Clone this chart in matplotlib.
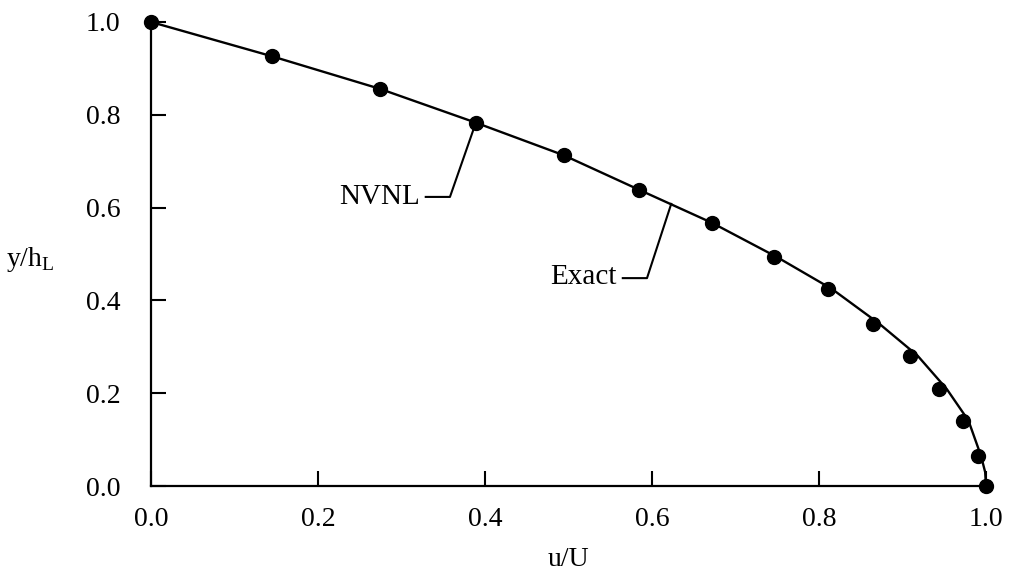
import matplotlib
matplotlib.use("Agg")
import matplotlib.pyplot as plt

# NVNL solution (dots)
u_nvnl = [0.0, 0.145, 0.274, 0.389, 0.494, 0.585, 0.672, 0.746, 0.811,
          0.865, 0.909, 0.944, 0.973, 0.991, 1.0]
y_nvnl = [1.0, 0.926, 0.856, 0.783, 0.713, 0.638, 0.567, 0.493, 0.424,
          0.350, 0.281, 0.209, 0.141, 0.065, 0.0]

# Exact solution (line)
u_exact = [0.0, 0.145, 0.274, 0.389, 0.494, 0.585, 0.672, 0.750, 0.816,
           0.872, 0.918, 0.953, 0.979, 0.994, 0.999, 1.0]
y_exact = [1.0, 0.926, 0.856, 0.783, 0.713, 0.638, 0.567, 0.493, 0.424,
           0.350, 0.281, 0.209, 0.141, 0.065, 0.030, 0.0]

ticks = [0.0, 0.2, 0.4, 0.6, 0.8, 1.0]
tick_labels = ["0.0", "0.2", "0.4", "0.6", "0.8", "1.0"]

serif = "Liberation Serif"
plt.rcParams["mathtext.fontset"] = "custom"
plt.rcParams["mathtext.rm"] = serif

fig = plt.figure(figsize=(10.09, 5.77), dpi=100)
ax = fig.add_axes([0.1497, 0.1577, 0.8275, 0.8042])

# Curves
ax.plot(u_exact, y_exact, color="black", linewidth=1.7, clip_on=False, zorder=3)
ax.plot(u_nvnl, y_nvnl, linestyle="none", marker="o", markersize=10,
        color="black", clip_on=False, zorder=4)

# Leader lines for labels
ax.plot([0.329, 0.358, 0.389], [0.623, 0.623, 0.783], color="black",
        linewidth=1.5, clip_on=False)
ax.text(0.322, 0.623, "NVNL", family=serif, fontsize=21, ha="right", va="center")
ax.plot([0.565, 0.594, 0.623], [0.448, 0.448, 0.608], color="black",
        linewidth=1.5, clip_on=False)
ax.text(0.558, 0.450, "Exact", family=serif, fontsize=21, ha="right", va="center")

# Axes styling
ax.set_xlim(0, 1)
ax.set_ylim(0, 1)
ax.spines["top"].set_visible(False)
ax.spines["right"].set_visible(False)
ax.spines["left"].set_linewidth(1.6)
ax.spines["bottom"].set_linewidth(1.6)

ax.set_xticks(ticks)
ax.set_xticklabels(tick_labels, family=serif, fontsize=20)
ax.set_yticks(ticks)
ax.set_yticklabels(tick_labels, family=serif, fontsize=20)
ax.tick_params(axis="both", direction="in", length=10.5, width=1.5)
ax.tick_params(axis="x", pad=15)
ax.tick_params(axis="y", pad=22)

ax.set_xlabel("u/U", family=serif, fontsize=20, labelpad=11)
fig.text(0.006, 0.55, r"y/h$_\mathregular{L}$", family=serif, fontsize=20,
         ha="left", va="center")

fig.savefig("out.png", dpi=100)
